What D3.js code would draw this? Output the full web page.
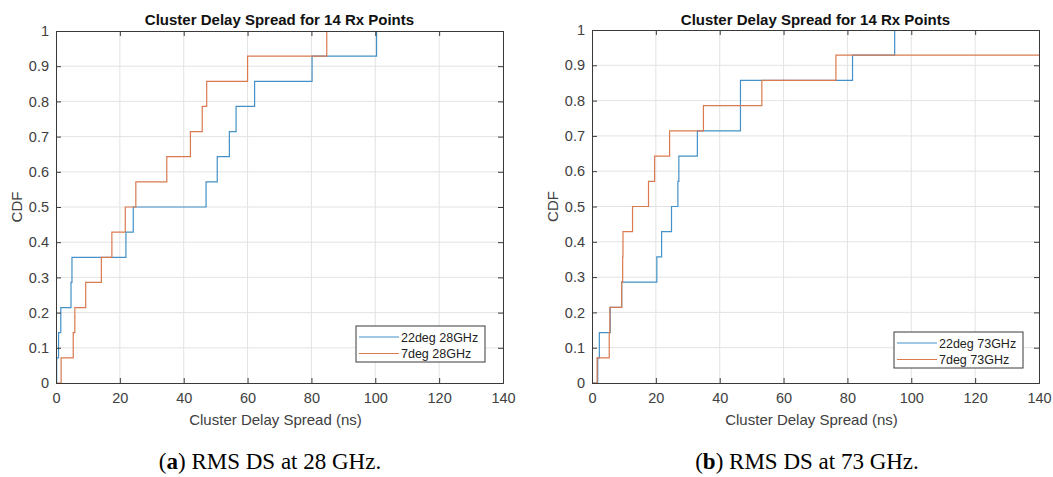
<!DOCTYPE html>
<html>
<head>
<meta charset="utf-8">
<script src="https://cdn.jsdelivr.net/npm/d3@7"></script>
<style>
  body { margin: 0; background: #fff; }
</style>
</head>
<body>
<div id="chart"></div>
<script>
// number of Rx points, each CDF step is 1/nRx
const nRx = 14;
const xTicks = [0, 20, 40, 60, 80, 100, 120, 140];
const yTicks = [0, 0.1, 0.2, 0.3, 0.4, 0.5, 0.6, 0.7, 0.8, 0.9, 1];

// sorted cluster delay spreads (ns)
const ds28_22deg = [0.2, 0.8, 1.5, 4.7, 5.0, 21.9, 24.2, 47.0, 50.5, 54.3, 56.4, 62.2, 80.2, 100.4];
const ds28_7deg = [1.6, 5.4, 5.9, 9.3, 14.2, 17.5, 21.7, 25.0, 34.7, 42.1, 45.8, 47.2, 60.0, 84.8];
const ds73_22deg = [1.8, 2.3, 5.7, 9.3, 20.3, 21.8, 24.9, 26.9, 27.2, 33.0, 46.5, 46.5, 81.6, 94.8];
// last 7deg 73GHz point lies beyond 140 ns
const ds73_7deg = [1.6, 5.4, 5.6, 9.3, 9.6, 9.7, 12.7, 17.7, 19.6, 24.3, 34.9, 53.2, 76.4];

const titleText = "Cluster Delay Spread for 14 Rx Points";
const xLabelText = "Cluster Delay Spread (ns)";
const yLabelText = "CDF";

const blue = "#4391c8";
const orange = "#d97a50";
const sans = "Arial, 'Liberation Sans', sans-serif";
const serif = "'Liberation Serif', 'DejaVu Serif', serif";

const panels = [
  { id: "a", x0: 56, x1: 503, y0: 31, y1: 383,
    series: [{ name: "22deg 28GHz", vals: ds28_22deg, color: blue },
             { name: "7deg 28GHz", vals: ds28_7deg, color: orange }],
    legend: { x: 356, y: 326, w: 129, h: 36 },
    caption: { cx: 270, tag: "a", rest: " RMS DS at 28 GHz." } },
  { id: "b", x0: 592, x1: 1039, y0: 30, y1: 383,
    series: [{ name: "22deg 73GHz", vals: ds73_22deg, color: blue },
             { name: "7deg 73GHz", vals: ds73_7deg, color: orange }],
    legend: { x: 894, y: 332, w: 129, h: 36 },
    caption: { cx: 807, tag: "b", rest: " RMS DS at 73 GHz." } }
];

const svg = d3.select("#chart").append("svg")
  .attr("width", 1053).attr("height", 477);

panels.forEach(p => {
  const x = d3.scaleLinear().domain([0, 140]).range([p.x0, p.x1]);
  const y = d3.scaleLinear().domain([0, 1]).range([p.y1, p.y0]);
  const g = svg.append("g");

  // grid
  g.append("g").selectAll("line").data(xTicks.slice(1, -1)).join("line")
    .attr("x1", d => x(d)).attr("x2", d => x(d))
    .attr("y1", p.y0).attr("y2", p.y1)
    .attr("stroke", "#e3e3e3");
  g.append("g").selectAll("line").data(yTicks.slice(1, -1)).join("line")
    .attr("y1", d => y(d)).attr("y2", d => y(d))
    .attr("x1", p.x0).attr("x2", p.x1)
    .attr("stroke", "#e3e3e3");

  // clip for the step lines
  g.append("clipPath").attr("id", "clip-" + p.id)
    .append("rect").attr("x", p.x0).attr("y", p.y0)
    .attr("width", p.x1 - p.x0).attr("height", p.y1 - p.y0);

  const step = d3.line().x(d => x(d[0])).y(d => y(d[1])).curve(d3.curveStepAfter);
  p.series.forEach(s => {
    const pts = [[0, 0]];
    s.vals.forEach((v, i) => pts.push([v, (i + 1) / nRx]));
    pts.push([140, s.vals.length / nRx]);
    g.append("path")
      .attr("d", step(pts))
      .attr("clip-path", `url(#clip-${p.id})`)
      .attr("fill", "none")
      .attr("stroke", s.color)
      .attr("stroke-width", 1.2);
  });

  // axes (box with inner ticks on every side)
  const ax = d3.axisBottom(x).tickValues(xTicks).tickSize(-5).tickPadding(10)
    .tickFormat(d3.format("d"));
  const ay = d3.axisLeft(y).tickValues(yTicks).tickSize(-5).tickPadding(7)
    .tickFormat(d => d === 0 || d === 1 ? d : d3.format(".1f")(d));
  const axT = d3.axisTop(x).tickValues(xTicks).tickSize(-5).tickFormat("");
  const ayR = d3.axisRight(y).tickValues(yTicks).tickSize(-5).tickFormat("");

  [[ax, `translate(0,${p.y1})`], [ay, `translate(${p.x0},0)`],
   [axT, `translate(0,${p.y0})`], [ayR, `translate(${p.x1},0)`]].forEach(([a, t]) => {
    const ga = g.append("g").attr("transform", t).call(a);
    ga.select(".domain").attr("stroke", "#3a3a3a");
    ga.selectAll(".tick line").attr("stroke", "#3a3a3a");
    ga.selectAll(".tick text").attr("font-size", 14.5).attr("fill", "#404040")
      .attr("font-family", sans);
  });

  // title and labels
  g.append("text").attr("x", (p.x0 + p.x1) / 2).attr("y", 25)
    .attr("text-anchor", "middle").attr("font-size", 15).attr("font-weight", "bold")
    .attr("font-family", sans).attr("fill", "#111").text(titleText);
  g.append("text").attr("x", (p.x0 + p.x1) / 2 - 4).attr("y", 425)
    .attr("text-anchor", "middle").attr("font-size", 15).attr("fill", "#404040")
    .attr("font-family", sans).text(xLabelText);
  g.append("text").attr("transform", `translate(${p.x0 - 34},${(p.y0 + p.y1) / 2}) rotate(-90)`)
    .attr("text-anchor", "middle").attr("font-size", 15).attr("fill", "#404040")
    .attr("font-family", sans).text(yLabelText);

  // legend
  const L = p.legend;
  const lg = g.append("g").attr("transform", `translate(${L.x},${L.y})`);
  lg.append("rect").attr("width", L.w).attr("height", L.h)
    .attr("fill", "#fff").attr("stroke", "#3a3a3a");
  p.series.forEach((s, i) => {
    const ly = 11 + i * 16.5;
    lg.append("line").attr("x1", 3).attr("x2", 43).attr("y1", ly).attr("y2", ly)
      .attr("stroke", s.color).attr("stroke-width", 1.2);
    lg.append("text").attr("x", 45).attr("y", ly + 4.5)
      .attr("font-size", 12.5).attr("font-family", sans).attr("fill", "#222").text(s.name);
  });

  // caption
  const c = svg.append("text").attr("x", p.caption.cx).attr("y", 469)
    .attr("text-anchor", "middle").attr("font-size", 23)
    .attr("font-family", serif).attr("fill", "#000");
  c.append("tspan").text("(");
  c.append("tspan").attr("font-weight", "bold").text(p.caption.tag);
  c.append("tspan").text(")" + p.caption.rest);
});
</script>
</body>
</html>
